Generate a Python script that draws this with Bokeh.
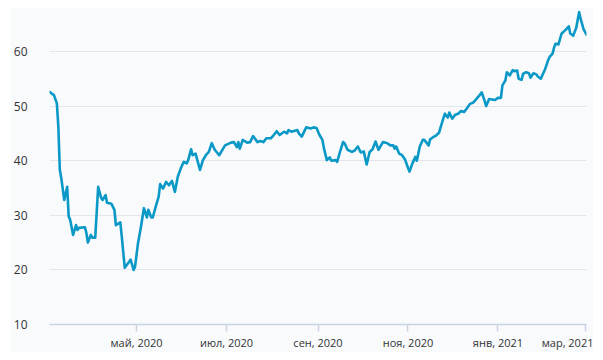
from datetime import datetime
import pandas as pd
from bokeh.plotting import figure
from bokeh.models import Range1d, FixedTicker
from bokeh.embed import file_html
from bokeh.resources import INLINE

# ---- data ----
dates = [
    "2020-03-03", "2020-03-04", "2020-03-06", "2020-03-08", "2020-03-09", "2020-03-10",
    "2020-03-11", "2020-03-13", "2020-03-15", "2020-03-16", "2020-03-17", "2020-03-19",
    "2020-03-21", "2020-03-22", "2020-03-23", "2020-03-27", "2020-03-28", "2020-03-29",
    "2020-03-31", "2020-04-01", "2020-04-03", "2020-04-05", "2020-04-07", "2020-04-08",
    "2020-04-10", "2020-04-11", "2020-04-14", "2020-04-16", "2020-04-17", "2020-04-20",
    "2020-04-21", "2020-04-23", "2020-04-26", "2020-04-27", "2020-04-29", "2020-04-30",
    "2020-05-02", "2020-05-04", "2020-05-06", "2020-05-08", "2020-05-09", "2020-05-11",
    "2020-05-12", "2020-05-14", "2020-05-16", "2020-05-17", "2020-05-19", "2020-05-21",
    "2020-05-23", "2020-05-25", "2020-05-27", "2020-05-29", "2020-05-31", "2020-06-02",
    "2020-06-04", "2020-06-05", "2020-06-07", "2020-06-08", "2020-06-10", "2020-06-13",
    "2020-06-15", "2020-06-17", "2020-06-19", "2020-06-21", "2020-06-23", "2020-06-26",
    "2020-06-28", "2020-06-30", "2020-07-04", "2020-07-06", "2020-07-08", "2020-07-09",
    "2020-07-10", "2020-07-12", "2020-07-15", "2020-07-17", "2020-07-19", "2020-07-22",
    "2020-07-24", "2020-07-26", "2020-07-28", "2020-07-31", "2020-08-02", "2020-08-04",
    "2020-08-06", "2020-08-09", "2020-08-11", "2020-08-12", "2020-08-14", "2020-08-18",
    "2020-08-19", "2020-08-21", "2020-08-24", "2020-08-27", "2020-08-29", "2020-08-31",
    "2020-09-02", "2020-09-04", "2020-09-05", "2020-09-07", "2020-09-09", "2020-09-10",
    "2020-09-13", "2020-09-14", "2020-09-16", "2020-09-18", "2020-09-19", "2020-09-21",
    "2020-09-24", "2020-09-26", "2020-09-28", "2020-09-30", "2020-10-02", "2020-10-04",
    "2020-10-06", "2020-10-08", "2020-10-10", "2020-10-12", "2020-10-15", "2020-10-18",
    "2020-10-20", "2020-10-22", "2020-10-23", "2020-10-24", "2020-10-26", "2020-10-28",
    "2020-10-30", "2020-11-01", "2020-11-02", "2020-11-04", "2020-11-06", "2020-11-07",
    "2020-11-09", "2020-11-11", "2020-11-12", "2020-11-15", "2020-11-16", "2020-11-18",
    "2020-11-20", "2020-11-22", "2020-11-23", "2020-11-25", "2020-11-26", "2020-11-28",
    "2020-11-29", "2020-12-01", "2020-12-03", "2020-12-05", "2020-12-07", "2020-12-09",
    "2020-12-11", "2020-12-13", "2020-12-15", "2020-12-17", "2020-12-19", "2020-12-21",
    "2020-12-23", "2020-12-24", "2020-12-26", "2020-12-28", "2020-12-30", "2021-01-01",
    "2021-01-03", "2021-01-04", "2021-01-06", "2021-01-07", "2021-01-09", "2021-01-11",
    "2021-01-12", "2021-01-14", "2021-01-15", "2021-01-17", "2021-01-18", "2021-01-20",
    "2021-01-22", "2021-01-23", "2021-01-25", "2021-01-27", "2021-01-28", "2021-01-30",
    "2021-01-31", "2021-02-02", "2021-02-04", "2021-02-05", "2021-02-07", "2021-02-08",
    "2021-02-09", "2021-02-11", "2021-02-13", "2021-02-14", "2021-02-16", "2021-02-18",
    "2021-02-19", "2021-02-21", "2021-02-23", "2021-02-25", "2021-02-26", "2021-02-28",
    "2021-03-02",
]
prices = [
    52.6, 52.4, 52.0, 50.5, 46.2, 38.3,
    36.8, 32.8, 35.2, 29.8, 29.2, 26.4,
    28.2, 27.3, 27.7, 27.8, 26.8, 25.0,
    26.4, 25.9, 25.9, 35.2, 33.2, 32.8,
    33.7, 32.3, 32.1, 31.0, 28.2, 28.7,
    26.1, 20.4, 21.5, 21.9, 20.0, 20.6,
    24.9, 27.9, 31.3, 29.6, 31.0, 29.6,
    29.6, 31.6, 33.4, 35.7, 34.9, 36.1,
    35.5, 36.3, 34.3, 37.1, 38.6, 39.8,
    39.5, 40.1, 42.1, 41.0, 41.3, 38.3,
    40.1, 41.0, 41.6, 43.2, 42.0, 41.0,
    41.9, 42.8, 43.3, 43.4, 42.5, 43.4,
    42.2, 43.8, 43.3, 43.4, 44.5, 43.4,
    43.6, 43.4, 44.1, 44.1, 44.7, 45.4,
    44.7, 45.3, 45.0, 45.6, 45.3, 45.6,
    45.0, 44.4, 46.1, 45.9, 46.1, 46.0,
    44.7, 43.8, 42.3, 40.1, 40.6, 40.0,
    40.1, 39.8, 41.7, 43.4, 43.2, 42.0,
    41.6, 41.9, 42.6, 41.5, 41.7, 39.3,
    41.6, 42.1, 43.5, 42.0, 43.4, 43.2,
    42.8, 42.8, 42.2, 42.6, 41.3, 41.0,
    40.2, 38.7, 38.0, 39.5, 40.7, 40.0,
    42.6, 43.8, 43.8, 42.8, 43.9, 44.3,
    44.6, 45.1, 46.0, 47.8, 48.6, 47.9,
    48.8, 47.7, 48.4, 48.6, 49.1, 48.9,
    49.6, 50.4, 50.6, 51.2, 51.8, 52.5,
    50.9, 50.0, 51.3, 51.2, 51.1, 51.5,
    51.5, 53.8, 54.7, 56.2, 55.6, 56.6,
    56.4, 56.5, 55.0, 54.8, 55.9, 56.2,
    56.0, 55.2, 56.0, 55.8, 55.4, 55.0,
    55.6, 56.8, 58.4, 59.0, 59.6, 60.7,
    61.4, 61.3, 63.2, 63.5, 64.0, 64.6,
    63.3, 62.9, 64.3, 67.2, 66.0, 64.1,
    63.1,
]

y_ticks = [10, 20, 30, 40, 50, 60]
x_tick_dates = ["2020-05-01", "2020-07-01", "2020-09-01", "2020-11-01", "2021-01-01", "2021-03-01"]
x_tick_labels = ["май, 2020", "июл, 2020", "сен, 2020", "ноя, 2020", "янв, 2021", "мар, 2021"]

# ---- figure ----
x = pd.to_datetime(dates)
bg = "#f8fafc"
FONT = "Open Sans"

p = figure(
    width=583, height=345,
    x_axis_type="datetime",
    x_range=Range1d(datetime(2020, 3, 3), datetime(2021, 3, 2)),
    y_range=Range1d(10, 67.5),
    output_backend="svg", toolbar_location=None,
    min_border_left=38, min_border_right=7, min_border_top=3, min_border_bottom=27,
    background_fill_color=bg, border_fill_color=bg,
    styles={"margin-left": "10px", "margin-top": "7px"},
)
p.outline_line_color = None

p.line(x, prices, line_color="#0a98c6", line_width=2.6, line_join="round", line_cap="round")

# y axis
p.yaxis.ticker = FixedTicker(ticks=y_ticks)
p.yaxis.axis_line_color = None
p.yaxis.major_tick_line_color = None
p.yaxis.minor_tick_line_color = None
p.yaxis.major_label_standoff = 16
p.yaxis.major_label_text_font = FONT
p.yaxis.major_label_text_font_size = "12px"
p.yaxis.major_label_text_color = "#333333"

# x axis
tick_ms = [float(pd.Timestamp(d).value // 10**6) for d in x_tick_dates]
p.xaxis.ticker = FixedTicker(ticks=tick_ms)
p.xaxis.major_label_overrides = {t: lab for t, lab in zip(tick_ms, x_tick_labels)}
p.xaxis.axis_line_color = "#c9d4e2"
p.xaxis.axis_line_width = 1.5
p.xaxis.major_tick_line_color = "#c9d4e2"
p.xaxis.major_tick_line_width = 1.5
p.xaxis.major_tick_in = 0
p.xaxis.major_tick_out = 7
p.xaxis.minor_tick_line_color = None
p.xaxis.major_label_standoff = 3
p.xaxis.major_label_text_font = FONT
p.xaxis.major_label_text_font_size = "11px"
p.xaxis.major_label_text_color = "#333333"

p.xgrid.grid_line_color = None
p.ygrid.grid_line_color = "#e1e6ec"
p.ygrid.grid_line_width = 1.2

open("out.html", "w").write(file_html(p, INLINE))
